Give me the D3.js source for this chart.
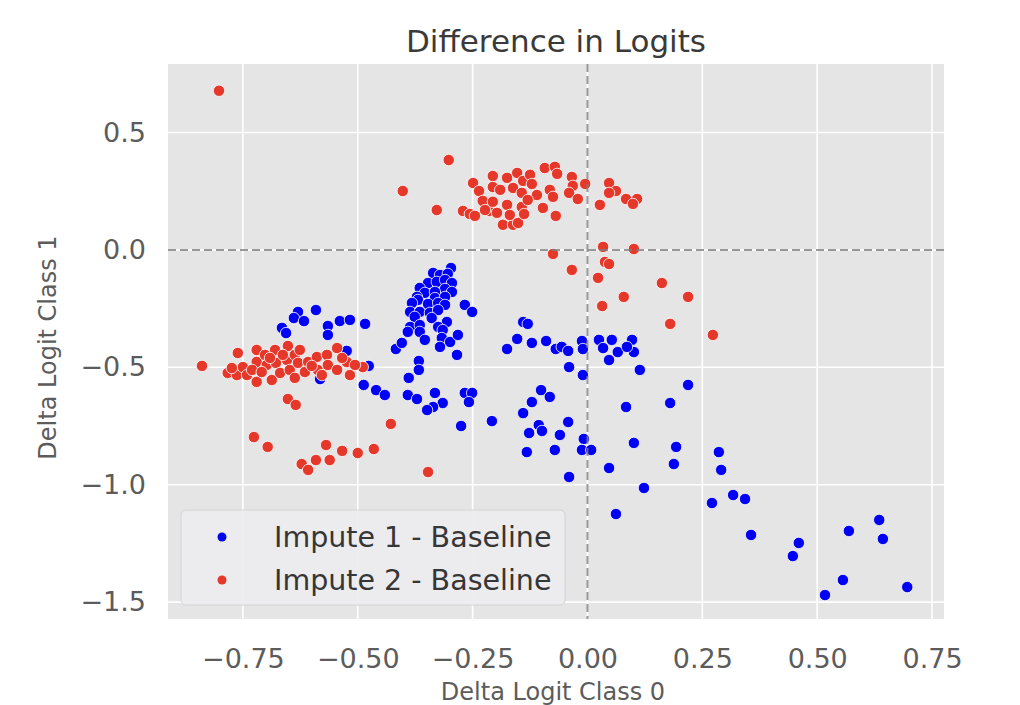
<!DOCTYPE html>
<html>
<head>
<meta charset="utf-8">
<script src="https://cdn.jsdelivr.net/npm/d3@7"></script>
<style>
  body { margin: 0; background: #fff; }
  svg { display: block; font-family: "DejaVu Sans", sans-serif; }
</style>
</head>
<body>
<div id="chart"></div>
<script>
// series names (legend order)
const seriesNames = ["Impute 1 - Baseline", "Impute 2 - Baseline"];
const seriesColors = ["#0000f5", "#e5382b"];

// [delta logit class 0, delta logit class 1]
const impute1 = [
  [-0.591,-0.256],[-0.630,-0.264],[-0.639,-0.290],[-0.617,-0.303],[-0.665,-0.332],[-0.656,-0.354],
  [-0.565,-0.324],[-0.539,-0.303],[-0.517,-0.298],[-0.484,-0.315],[-0.565,-0.362],[-0.524,-0.430],
  [-0.417,-0.422],[-0.582,-0.550],[-0.476,-0.494],[-0.487,-0.575],[-0.460,-0.597],[-0.441,-0.618],
  [-0.297,-0.077],[-0.336,-0.098],[-0.321,-0.107],[-0.304,-0.102],[-0.347,-0.141],[-0.328,-0.136],
  [-0.310,-0.128],[-0.295,-0.141],[-0.365,-0.162],[-0.310,-0.166],[-0.354,-0.183],[-0.332,-0.179],
  [-0.295,-0.179],[-0.371,-0.200],[-0.369,-0.213],[-0.332,-0.205],[-0.310,-0.200],[-0.382,-0.226],
  [-0.347,-0.230],[-0.325,-0.226],[-0.310,-0.234],[-0.267,-0.234],[-0.386,-0.264],[-0.365,-0.264],
  [-0.343,-0.268],[-0.325,-0.256],[-0.251,-0.264],[-0.376,-0.285],[-0.339,-0.290],[-0.306,-0.307],
  [-0.386,-0.328],[-0.365,-0.320],[-0.325,-0.328],[-0.315,-0.341],[-0.391,-0.349],[-0.365,-0.349],
  [-0.354,-0.383],[-0.317,-0.375],[-0.299,-0.392],[-0.282,-0.362],[-0.321,-0.413],[-0.404,-0.396],
  [-0.284,-0.447],[-0.367,-0.473],[-0.367,-0.511],
  [-0.389,-0.545],[-0.391,-0.618],[-0.371,-0.635],[-0.332,-0.609],[-0.267,-0.609],[-0.251,-0.609],
  [-0.258,-0.648],[-0.315,-0.652],[-0.336,-0.669],[-0.349,-0.682],[-0.275,-0.750],[-0.208,-0.729],
  [-0.140,-0.307],[-0.130,-0.315],[-0.153,-0.379],[-0.175,-0.422],[-0.121,-0.396],[-0.090,-0.388],
  [-0.069,-0.422],[-0.101,-0.597],[-0.082,-0.626],[-0.121,-0.648],[-0.140,-0.695],[-0.106,-0.746],
  [-0.099,-0.771],[-0.127,-0.780],[-0.071,-0.852],[-0.132,-0.861],
  [-0.056,-0.413],[-0.042,-0.430],[-0.012,-0.388],[-0.010,-0.422],[0.025,-0.383],[-0.040,-0.499],
  [-0.010,-0.533],[-0.042,-0.733],[-0.060,-0.788],[-0.008,-0.805],[-0.012,-0.852],[0.008,-0.852],
  [-0.040,-0.967],
  [0.034,-0.418],[0.053,-0.383],[0.066,-0.435],[0.097,-0.383],[0.101,-0.435],[0.086,-0.413],
  [0.047,-0.469],[0.114,-0.511],[0.219,-0.575],[0.180,-0.652],[0.084,-0.669],[0.101,-0.822],
  [0.193,-0.839],[0.188,-0.912],[0.286,-0.861],[0.291,-0.937],[0.047,-0.929],[0.123,-1.014],
  [0.062,-1.125],[0.271,-1.078],[0.317,-1.044],
  [0.343,-1.061],[0.356,-1.214],[0.460,-1.248],[0.447,-1.304],[0.569,-1.197],[0.635,-1.150],
  [0.643,-1.231],[0.556,-1.406],[0.517,-1.470],[0.696,-1.436]
];

const impute2 = [
  [-0.839,-0.494],[-0.783,-0.524],[-0.763,-0.533],[-0.761,-0.439],[-0.750,-0.499],[-0.741,-0.533],
  [-0.720,-0.426],[-0.720,-0.477],[-0.720,-0.562],[-0.702,-0.447],[-0.698,-0.490],[-0.687,-0.554],
  [-0.680,-0.426],[-0.678,-0.481],[-0.669,-0.524],[-0.652,-0.409],[-0.654,-0.469],[-0.648,-0.511],
  [-0.637,-0.447],[-0.630,-0.481],[-0.637,-0.545],[-0.615,-0.520],[-0.608,-0.477],[-0.589,-0.456],
  [-0.587,-0.511],[-0.567,-0.447],[-0.565,-0.490],[-0.545,-0.418],[-0.545,-0.511],[-0.524,-0.477],
  [-0.517,-0.533],[-0.489,-0.499],[-0.774,-0.503],[-0.730,-0.511],[-0.709,-0.520],[-0.663,-0.447],
  [-0.600,-0.494],[-0.534,-0.460],[-0.506,-0.490],[-0.626,-0.426],[-0.578,-0.533],[-0.691,-0.460],
  [-0.652,-0.635],[-0.635,-0.660],[-0.428,-0.741],[-0.726,-0.797],[-0.696,-0.839],[-0.569,-0.831],
  [-0.534,-0.856],[-0.500,-0.865],[-0.465,-0.848],[-0.591,-0.895],[-0.561,-0.895],[-0.622,-0.912],
  [-0.608,-0.937],[-0.347,-0.946],[-0.802,0.678],
  [-0.402,0.251],[-0.302,0.383],[-0.328,0.170],[-0.271,0.166],[-0.256,0.153],[-0.245,0.145],
  [-0.249,0.285],[-0.236,0.251],[-0.228,0.209],[-0.206,0.315],[-0.206,0.268],[-0.214,0.166],
  [-0.197,0.158],[-0.206,0.205],[-0.175,0.307],[-0.175,0.192],[-0.184,0.107],[-0.162,0.107],
  [-0.151,0.115],[-0.169,0.149],[-0.153,0.328],[-0.140,0.294],[-0.125,0.320],[-0.162,0.264],
  [-0.143,0.243],[-0.143,0.183],[-0.138,0.153],[-0.121,0.281],[-0.110,0.234],[-0.093,0.349],
  [-0.071,0.354],[-0.066,0.324],[-0.097,0.179],[-0.069,0.145],[-0.082,0.256],[-0.075,0.226],
  [-0.034,0.311],[-0.032,0.273],[-0.040,0.243],[-0.021,0.217],[-0.005,0.281],[0.027,0.192],
  [0.047,0.285],[0.062,0.251],[0.047,0.243],[0.084,0.217],[0.108,0.217],[0.099,0.196],
  [-0.223,0.170],[-0.190,0.256],[-0.130,0.213],
  [-0.075,-0.017],[-0.034,-0.085],[0.034,0.013],[0.101,0.004],[0.038,-0.051],[0.047,-0.060],
  [0.023,-0.119],[0.162,-0.141],[0.079,-0.200],[0.219,-0.200],[0.032,-0.239],[0.180,-0.315],
  [0.273,-0.362]
];

const xTicks = [-0.75, -0.50, -0.25, 0.00, 0.25, 0.50, 0.75];
const yTicks = [0.5, 0.0, -0.5, -1.0, -1.5];

const width = 1020, height = 705;
const margin = { top: 64, right: 76, bottom: 86, left: 168 };

const svg = d3.select("#chart").append("svg")
  .attr("width", width)
  .attr("height", height);

const x = d3.scaleLinear()
  .domain([-0.913, 0.776])
  .range([margin.left, width - margin.right]);

const y = d3.scaleLinear()
  .domain([-1.572, 0.792])
  .range([height - margin.bottom, margin.top]);

const fmtX = d => d3.format(".2f")(d).replace("-", "\u2212");
const fmtY = d => d3.format(".1f")(d).replace("-", "\u2212");

// plot background
svg.append("rect")
  .attr("x", margin.left).attr("y", margin.top)
  .attr("width", x.range()[1] - x.range()[0])
  .attr("height", y.range()[0] - y.range()[1])
  .attr("fill", "#e5e5e5");

// grid
const grid = svg.append("g").attr("stroke", "#ffffff").attr("stroke-width", 1.6);
grid.selectAll(".gx").data(xTicks).enter().append("line")
  .attr("x1", d => x(d)).attr("x2", d => x(d))
  .attr("y1", margin.top).attr("y2", height - margin.bottom);
grid.selectAll(".gy").data(yTicks).enter().append("line")
  .attr("x1", margin.left).attr("x2", width - margin.right)
  .attr("y1", d => y(d)).attr("y2", d => y(d));

// axes (labels only, no spines)
const xAxis = svg.append("g")
  .attr("transform", `translate(0,${height - margin.bottom})`)
  .call(d3.axisBottom(x).tickValues(xTicks).tickFormat(fmtX).tickSize(0).tickPadding(30));
const yAxis = svg.append("g")
  .attr("transform", `translate(${margin.left},0)`)
  .call(d3.axisLeft(y).tickValues(yTicks).tickFormat(fmtY).tickSize(0).tickPadding(22));
[xAxis, yAxis].forEach(a => {
  a.select(".domain").remove();
  a.selectAll("text")
    .attr("font-family", "DejaVu Sans")
    .attr("font-size", 27)
    .attr("fill", "#5c5c5c");
});

// points
const series = [impute1, impute2];
series.forEach((pts, i) => {
  svg.append("g").selectAll("circle")
    .data(pts)
    .enter()
    .append("circle")
    .attr("cx", d => x(d[0]))
    .attr("cy", d => y(d[1]))
    .attr("r", 5.7)
    .attr("fill", seriesColors[i])
    .attr("stroke", "#ffffff")
    .attr("stroke-opacity", 0.8)
    .attr("stroke-width", 1);
});

// zero reference lines
const ref = svg.append("g")
  .attr("stroke", "#7f7f7f")
  .attr("stroke-opacity", 0.8)
  .attr("stroke-width", 2)
  .attr("stroke-dasharray", "8,4");
ref.append("line")
  .attr("x1", x(0)).attr("x2", x(0))
  .attr("y1", margin.top).attr("y2", height - margin.bottom);
ref.append("line")
  .attr("x1", margin.left).attr("x2", width - margin.right)
  .attr("y1", y(0)).attr("y2", y(0));

// title and axis labels
svg.append("text")
  .attr("x", (x.range()[0] + x.range()[1]) / 2)
  .attr("y", 52)
  .attr("text-anchor", "middle")
  .attr("font-size", 31)
  .attr("fill", "#3a3a3a")
  .text("Difference in Logits");

svg.append("text")
  .attr("x", (x.range()[0] + x.range()[1]) / 2 - 3)
  .attr("y", 700)
  .attr("text-anchor", "middle")
  .attr("font-size", 24)
  .attr("fill", "#5c5c5c")
  .text("Delta Logit Class 0");

svg.append("text")
  .attr("transform", `translate(56,${(y.range()[0] + y.range()[1]) / 2 + 6}) rotate(-90)`)
  .attr("text-anchor", "middle")
  .attr("font-size", 24)
  .attr("fill", "#5c5c5c")
  .text("Delta Logit Class 1");

// legend
const legend = svg.append("g").attr("transform", "translate(181,510)");
legend.append("rect")
  .attr("width", 384).attr("height", 95)
  .attr("rx", 5)
  .attr("fill", "#ececef")
  .attr("fill-opacity", 0.9)
  .attr("stroke", "#d4d4d4");
seriesNames.forEach((name, i) => {
  const row = legend.append("g").attr("transform", `translate(0,${27 + i * 43})`);
  row.append("circle")
    .attr("cx", 41).attr("cy", 0)
    .attr("r", 4.5)
    .attr("fill", seriesColors[i]);
  row.append("text")
    .attr("x", 93).attr("y", 0)
    .attr("dy", "0.35em")
    .attr("font-size", 28.5)
    .attr("fill", "#363636")
    .text(name);
});
</script>
</body>
</html>
